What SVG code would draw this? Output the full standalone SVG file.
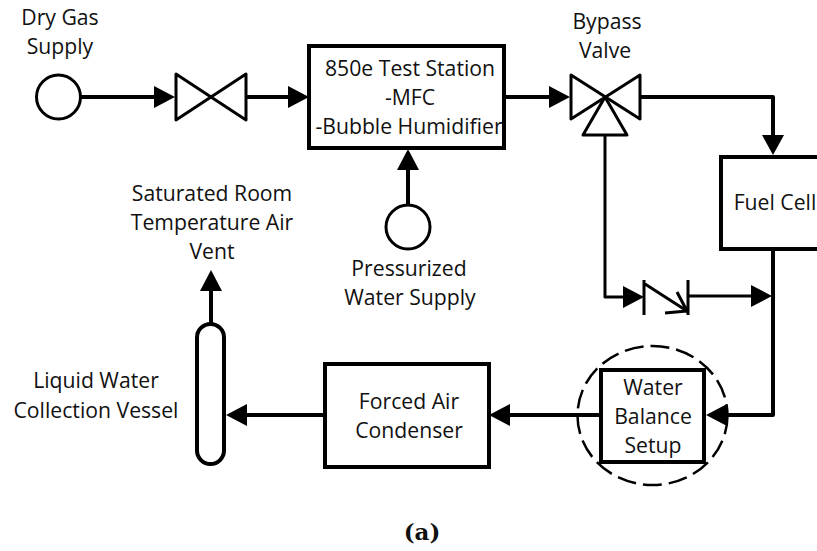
<svg xmlns="http://www.w3.org/2000/svg" width="817" height="551" viewBox="0 0 817 551">
<style>
text{font-family:"Open Sans","Noto Sans","Liberation Sans",sans-serif;font-size:21.2px;fill:#111;text-anchor:middle}
.s{fill:#fff;stroke:#000;stroke-width:4;stroke-linejoin:miter}
.t{fill:#fff;stroke:#000;stroke-width:3;stroke-linejoin:round}
.c{fill:none;stroke:#000;stroke-width:4;stroke-linejoin:round}
.d{fill:none;stroke:#000;stroke-width:3;stroke-linejoin:round}
.a{fill:#000;stroke:none}
</style>
<rect width="817" height="551" fill="#fff"/>
<g id="connectors">
<path class="c" d="M81 97H156"/><polygon class="a" points="154,86 175,97 154,108"/>
<path class="c" d="M246 97H290"/><polygon class="a" points="288,86 309,97 288,108"/>
<path class="c" d="M504 97H550"/><polygon class="a" points="549,86 570,97 549,108"/>
<path class="c" d="M408 206V168"/><polygon class="a" points="397,170 408,149 419,170"/>
<path class="c" d="M641 97H773V137"/><polygon class="a" points="762,135 773,155 784,135"/>
<path class="d" d="M605 135V297H625"/><polygon class="a" points="623,286 644,297 623,308"/>
<path class="d" d="M688 296H752"/><polygon class="a" points="751,285 772,296 751,307"/>
<path class="c" d="M773 248V415H722"/><polygon class="a" points="727,404 706,415 727,426"/>
<path class="c" d="M601 415H508"/><polygon class="a" points="510,404 489,415 510,426"/>
<path class="c" d="M325 415H245"/><polygon class="a" points="247,404 226,415 247,426"/>
<path class="c" d="M211 324V289"/><polygon class="a" points="200,291 211,270 222,291"/>
</g>
<g id="dry-gas-supply"><circle class="t" cx="58.500" cy="97" r="22"/><text x="60" y="25">Dry Gas</text><text x="60" y="54">Supply</text></g>
<g id="valve"><polygon class="t" points="176,74 246,120 246,74 176,120"/></g>
<g id="test-station"><rect class="s" x="309" y="46" width="195" height="102"/><text x="410" y="76">850e Test Station</text><text x="410" y="105">-MFC</text><text x="409" y="134">-Bubble Humidifier</text></g>
<g id="bypass-valve"><polygon class="t" points="571,75 640,119 640,75 571,119"/><polygon class="t" points="605,97 627,135 583,135"/><text x="607" y="29">Bypass</text><text x="605" y="58">Valve</text></g>
<g id="fuel-cell"><rect x="721" y="157" width="120" height="92" class="s"/><text x="775" y="210">Fuel Cell</text></g>
<g id="pressurized-water"><circle class="t" cx="408" cy="227" r="22"/><text x="409" y="276">Pressurized</text><text x="410" y="305">Water Supply</text></g>
<g id="check-valve"><path class="d" d="M644 280V315M688 280V315M645 284L687 311M665 313L687 311L677 292"/></g>
<g id="water-balance"><ellipse cx="652.500" cy="415.500" rx="75" ry="69.500" fill="none" stroke="#000" stroke-width="2.500" stroke-dasharray="19 7"/><rect class="s" x="601" y="370" width="103" height="92"/><text x="653" y="395">Water</text><text x="653" y="424">Balance</text><text x="653" y="453">Setup</text></g>
<g id="condenser"><rect class="s" x="325" y="364" width="164" height="103"/><text x="409" y="409">Forced Air</text><text x="409" y="438">Condenser</text></g>
<g id="collection-vessel"><rect class="s" x="197" y="324" width="27" height="140" rx="13.500"/><text x="96" y="388">Liquid Water</text><text x="96" y="418">Collection Vessel</text></g>
<g id="vent"><text x="212" y="201">Saturated Room</text><text x="212" y="230">Temperature Air</text><text x="212" y="259">Vent</text></g>
<text x="422" y="540" style="font-family:'DejaVu Serif','Liberation Serif',serif;font-weight:bold;font-size:23px">(a)</text>
</svg>
